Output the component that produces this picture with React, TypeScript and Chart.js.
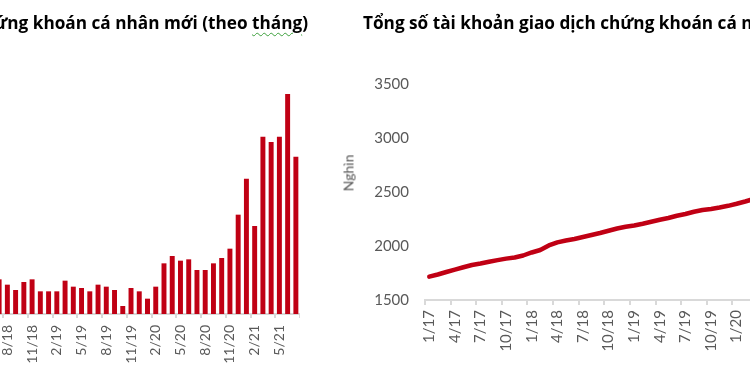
import React, { useEffect, useRef } from 'react';
import { Chart, registerables } from 'chart.js';

Chart.register(...registerables);

// Left chart: new individual securities accounts per month (thousands)
const newMonths = [
  '7/18', '8/18', '9/18', '10/18', '11/18', '12/18',
  '1/19', '2/19', '3/19', '4/19', '5/19', '6/19', '7/19', '8/19', '9/19', '10/19', '11/19', '12/19',
  '1/20', '2/20', '3/20', '4/20', '5/20', '6/20', '7/20', '8/20', '9/20', '10/20', '11/20', '12/20',
  '1/21', '2/21', '3/21', '4/21', '5/21', '6/21', '7/21',
];
const newAccounts = [
  26, 22, 18, 24, 26, 17,
  17, 17, 25, 20.5, 19.5, 17, 22, 20.5, 18, 6, 19.5, 17,
  11.5, 20.5, 38, 43.5, 40, 41, 33, 33, 38, 42, 49, 74.5,
  101.5, 66, 133, 129, 133, 165, 118,
];

// Right chart: total individual trading accounts (thousands, "Nghìn")
const totalMonths = [
  '1/17', '2/17', '3/17', '4/17', '5/17', '6/17', '7/17', '8/17', '9/17', '10/17', '11/17', '12/17',
  '1/18', '2/18', '3/18', '4/18', '5/18', '6/18', '7/18', '8/18', '9/18', '10/18', '11/18', '12/18',
  '1/19', '2/19', '3/19', '4/19', '5/19', '6/19', '7/19', '8/19', '9/19', '10/19', '11/19', '12/19',
  '1/20', '2/20', '3/20',
];
const totalAccounts = [
  1716, 1736, 1759, 1781, 1803, 1824, 1838, 1854, 1869, 1883, 1894, 1912,
  1940, 1963, 2005, 2034, 2051, 2065, 2083, 2102, 2120, 2141, 2162, 2178,
  2190, 2206, 2224, 2243, 2259, 2280, 2296, 2317, 2333, 2343, 2356, 2372,
  2391, 2412, 2435,
];
const totalYTicks = [1500, 2000, 2500, 3000, 3500];

const leftTitle = 'Số tài khoản giao dịch chứng khoán cá nhân mới (theo ';
const leftTitleTail = 'tháng';
const rightTitle = 'Tổng số tài khoản giao dịch chứng khoán cá nhân';
const yAxisTitle = 'Nghìn';

const RED = '#C00014';
const AXIS = '#D9D9D9';
const TEXT = '#595959';
const FONT = 'Lato, "Open Sans", sans-serif';
const TITLE_FONT = '"Open Sans", Lato, sans-serif';

function LeftChart() {
  const ref = useRef<HTMLCanvasElement>(null);
  useEffect(() => {
    const chart = new Chart(ref.current!, {
      type: 'bar',
      data: {
        labels: newMonths,
        datasets: [{
          data: newAccounts,
          backgroundColor: RED,
          barPercentage: 0.6,
          categoryPercentage: 1,
        }],
      },
      options: {
        responsive: false,
        animation: false,
        devicePixelRatio: 1,
        layout: { padding: { top: 74, left: 0, right: 0, bottom: 0 } },
        plugins: { legend: { display: false }, tooltip: { enabled: false } },
        scales: {
          x: {
            offset: true,
            grid: {
              offset: true,
              drawOnChartArea: false,
              tickLength: 4,
              lineWidth: 2,
              color: (ctx: any) => (ctx.type !== 'tick' || ctx.index % 3 === 1 ? AXIS : 'rgba(0,0,0,0)'),
            },
            border: { display: true, color: AXIS, width: 2 },
            ticks: {
              autoSkip: false,
              minRotation: 90,
              maxRotation: 90,
              padding: 7,
              color: TEXT,
              font: { family: FONT, size: 14 },
              callback: (_v: any, i: number) => (i % 3 === 1 ? newMonths[i] : ''),
            },
            afterFit: (s: any) => { s.height = 61; s.paddingLeft = 0; s.paddingRight = 0; },
          },
          y: { display: false, min: 0, max: 180 },
        },
      },
    } as any);
    return () => chart.destroy();
  }, []);
  return <canvas ref={ref} width={305} height={375} style={{ position: 'absolute', left: -5, top: 0 }} />;
}

function RightChart() {
  const ref = useRef<HTMLCanvasElement>(null);
  useEffect(() => {
    const chart = new Chart(ref.current!, {
      type: 'line',
      data: {
        labels: totalMonths,
        datasets: [{
          data: totalAccounts,
          borderColor: RED,
          borderWidth: 4.5,
          pointRadius: 0,
          tension: 0,
          borderCapStyle: 'round',
          borderJoinStyle: 'round',
          fill: false,
        }],
      },
      options: {
        responsive: false,
        animation: false,
        devicePixelRatio: 1,
        layout: { padding: { top: 84, left: 0, right: 0, bottom: 0 } },
        plugins: { legend: { display: false }, tooltip: { enabled: false } },
        scales: {
          x: {
            offset: true,
            grid: {
              offset: true,
              drawOnChartArea: false,
              tickLength: 5,
              lineWidth: 2,
              color: (ctx: any) => (ctx.type !== 'tick' || ctx.index % 3 === 0 ? AXIS : 'rgba(0,0,0,0)'),
            },
            border: { display: true, color: AXIS, width: 2 },
            ticks: {
              autoSkip: false,
              minRotation: 90,
              maxRotation: 90,
              padding: 5,
              color: TEXT,
              font: { family: FONT, size: 15 },
              callback: (_v: any, i: number) => (i % 3 === 0 ? totalMonths[i] : ''),
            },
            afterFit: (s: any) => { s.height = 75; s.paddingLeft = 0; s.paddingRight = 0; },
          },
          y: {
            min: totalYTicks[0],
            max: totalYTicks[totalYTicks.length - 1],
            afterBuildTicks: (s: any) => { s.ticks = totalYTicks.map((v) => ({ value: v })); },
            grid: { display: false, drawTicks: false },
            border: { display: false },
            ticks: {
              padding: 16,
              color: TEXT,
              font: { family: FONT, size: 15 },
              callback: (v: any) => String(v),
            },
            afterFit: (s: any) => { s.width = 85; },
          },
        },
      },
    } as any);
    return () => chart.destroy();
  }, []);
  return <canvas ref={ref} width={418} height={375} style={{ position: 'absolute', left: 340, top: 0 }} />;
}

export default function App() {
  const titleStyle: React.CSSProperties = {
    position: 'absolute',
    top: 12,
    fontFamily: TITLE_FONT,
    fontWeight: 700,
    fontSize: 17.2,
    lineHeight: '22px',
    color: '#000',
    whiteSpace: 'nowrap',
  };
  return (
    <div style={{ position: 'fixed', left: 0, top: 0, width: 750, height: 375, overflow: 'hidden', background: '#fff' }}>
      <LeftChart />
      <RightChart />
      <div style={{ ...titleStyle, right: 442 }}>
        {leftTitle}
        <span style={{ textDecoration: 'underline wavy #3CA03C', textDecorationThickness: 1, textUnderlineOffset: 3 }}>{leftTitleTail}</span>
        )
      </div>
      <div style={{ ...titleStyle, left: 363 }}>{rightTitle}</div>
      <div
        style={{
          position: 'absolute',
          left: 348,
          top: 173,
          transform: 'translate(-50%, -50%) rotate(-90deg)',
          fontFamily: FONT,
          fontSize: 14,
          color: TEXT,
          whiteSpace: 'nowrap',
        }}
      >
        {yAxisTitle}
      </div>
    </div>
  );
}
